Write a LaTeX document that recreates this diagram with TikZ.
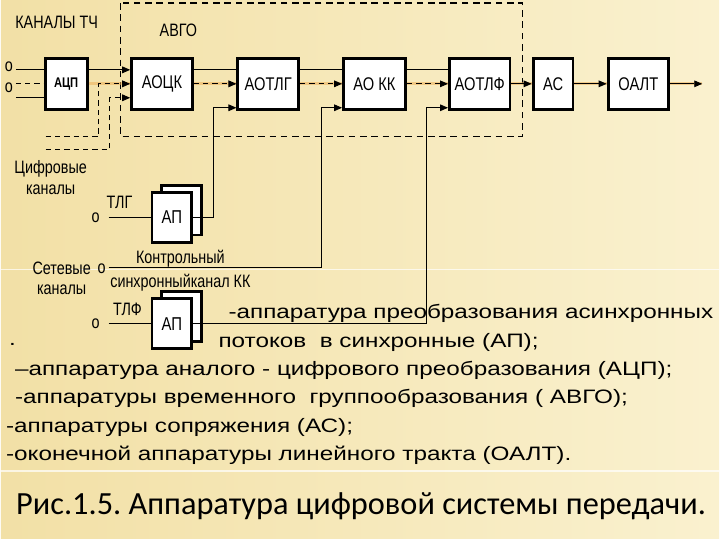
\documentclass[tikz,border=0pt]{standalone}
\usepackage{fontspec}
\setmainfont{Liberation Sans}
\newfontfamily\narrowsf[FakeStretch=0.8]{Liberation Sans}
\newfontfamily\widesf[FakeStretch=1.25]{Liberation Sans}
\newfontfamily\capsf{Carlito}
\usetikzlibrary{arrows.meta,calc,positioning}
\frenchspacing

\definecolor{bgleft}{RGB}{242,224,166}
\definecolor{bgright}{RGB}{250,241,207}
\definecolor{glowc}{RGB}{238,176,88}

\begin{document}
\begin{tikzpicture}[x=0.75pt, y=-0.75pt, >={Triangle[length=6pt,width=5pt]},
  blk/.style={draw, line width=2.2pt, fill=white, minimum height=38.3pt, minimum width=45.5pt, inner sep=1pt, font=\narrowsf\fontsize{13.8}{16}\selectfont},
  apbox/.style={draw, line width=2.2pt, fill=white, minimum width=30pt, minimum height=37.5pt, inner sep=1pt, font=\narrowsf\fontsize{14}{16}\selectfont},
  lbl/.style={font=\narrowsf\fontsize{13.5}{15.5}\selectfont, inner sep=0pt, align=center},
  wire/.style={line width=0.7pt},
  dig/.style={wire, dash pattern=on 4pt off 3pt},
  glow/.style={line width=2.4pt, glowc, opacity=0.55},
  txt/.style={font=\widesf\fontsize{14.6}{17}\selectfont, anchor=west, inner sep=0pt}]

  % Background
  \shade[left color=bgleft, right color=bgright] (0,0) rectangle (720,540);
  \draw[white, opacity=0.7, line width=1.2pt] (0,270) -- (720,270);
  \draw[white, opacity=0.7, line width=1.2pt] (0,472) -- (720,472);

  % Rows
  \coordinate (r1) at (0,70);
  \coordinate (r2) at (0,84);
  \coordinate (r3) at (0,98);
  \coordinate (r4) at (0,108);

  % AVGO frame
  \draw[line width=0.9pt, dash pattern=on 5pt off 3.5pt] (120,3) rectangle (523,137);
  \node[lbl] (kanTch) at (56,22) {КАНАЛЫ ТЧ};
  \node[lbl] (avgo) at (178,30) {АВГО};

  % Blocks
  \node[blk, minimum width=31.5pt, font=\narrowsf\bfseries\fontsize{10.5}{12}\selectfont] (adc) at (65.5,84) {АЦП};
  \node[blk] (aock) at (161.5,84) {АОЦК};
  \node[blk] (aotlg) at (268,84) {АОТЛГ};
  \node[blk, minimum width=46.5pt] (aokk) at (374.5,84) {АО КК};
  \node[blk] (aotlf) at (480,84) {АОТЛФ};
  \node[blk, minimum width=30pt] (asopr) at (553.5,84) {АС};
  \node[blk] (oalt) at (639,84) {ОАЛТ};
  \coordinate (outp) at (703,84);

  % Glow behind the main stream
  \foreach \a/\b in {adc/aock, aock/aotlg, aotlg/aokk, aokk/aotlf, aotlf/asopr, asopr/oalt}
    \draw[glow] (\a.east |- r2) -- (\b.west |- r2);
  \draw[glow] (oalt.east) -- (outp);

  % Analog inputs
  \node[lbl] (oA) at (8,67) {о};
  \node[lbl] (oB) at (8,88) {о};
  \coordinate (inA) at (15,70);
  \coordinate (inB) at (15,84);
  \coordinate (inC) at (15,98);
  \draw[wire] (inA) -- (inA -| adc.west);
  \draw[dig] (inB) -- (inB -| adc.west);
  \draw[wire] (inC) -- (inC -| adc.west);

  % Digital channels
  \node[lbl] (cifr) at (50,178) {Цифровые\\каналы};
  \coordinate (digA) at (45,137);
  \coordinate (digB) at (45,150);
  \draw[wire,->] (adc.east |- r1) -- (aock.west |- r1);
  \draw[dig,->] (digA) -- ++(53,0) |- (aock.west |- r2);
  \draw[dig,->] (digB) -- ++(64,0) |- (aock.west |- r3);

  % Chain
  \foreach \a/\b in {aock/aotlg, aotlg/aokk, aokk/aotlf} {
    \draw[wire] (\a.east |- r1) -- (\b.west |- r1);
    \draw[dig,->] (\a.east |- r2) -- (\b.west |- r2);
  }
  \draw[wire,->] (aotlf) -- (asopr);
  \draw[wire,->] (asopr) -- (oalt);
  \draw[wire,->] (oalt) -- (outp);

  % TLG converter
  \node[apbox] (apgB) at (181.5,210.5) {};
  \node[apbox] (apg) at (171.5,218) {АП};
  \node[lbl] (oTlg) at (95,218) {о};
  \node[lbl] (tlg) at (119,203) {ТЛГ};
  \coordinate (tlgIn) at (108,218);
  \draw[wire] (tlgIn) -- (apg);
  \draw[wire,->] (apg.east) -- ++(20,0) |- (aotlg.west |- r4);

  % Control channel
  \node[lbl] (set) at (61,279) {Сетевые\\каналы};
  \node[lbl] (oKk) at (101,269) {о};
  \node[lbl] (kont) at (180,259) {Контрольный};
  \node[lbl] (sinh) at (180,283) {синхронныйканал КК};
  \coordinate (kkIn) at (108,268);
  \draw[wire,->] (kkIn) -- ++(213,0) |- (aokk.west |- r4);

  % TLF converter
  \node[apbox] (apfB) at (181.5,317.5) {};
  \node[apbox] (apf) at (171.5,324.5) {АП};
  \node[lbl] (oTlf) at (95,324) {о};
  \node[lbl] (tlf) at (127,310) {ТЛФ};
  \coordinate (tlfIn) at (108,324.5);
  \draw[wire] (tlfIn) -- (apf);
  \draw[wire,->] (apf.east) -- ++(234,0) |- (aotlf.west |- r4);

  % Legend
  \node[txt] (t1) at (228,314) {-аппаратура преобразования асинхронных};
  \node[txt] (t2) at (218,343) {потоков\ \ в синхронные (АП);};
  \node[txt] (dot) at (8,345) {.};
  \node[txt] (t3) at (14,371) {–аппаратура аналого - цифрового преобразования (АЦП);};
  \node[txt] (t4) at (14,399) {-аппаратуры временного\ \ группообразования ( АВГО);};
  \node[txt] (t5) at (5,428) {-аппаратуры сопряжения (АС);};
  \node[txt] (t6) at (5,456) {-оконечной аппаратуры линейного тракта (ОАЛТ).};

  % Caption
  \node[font=\capsf\fontsize{24.3}{28}\selectfont] (cap) at (361,507) {Рис.1.5. Аппаратура цифровой системы передачи.};
\end{tikzpicture}
\end{document}
